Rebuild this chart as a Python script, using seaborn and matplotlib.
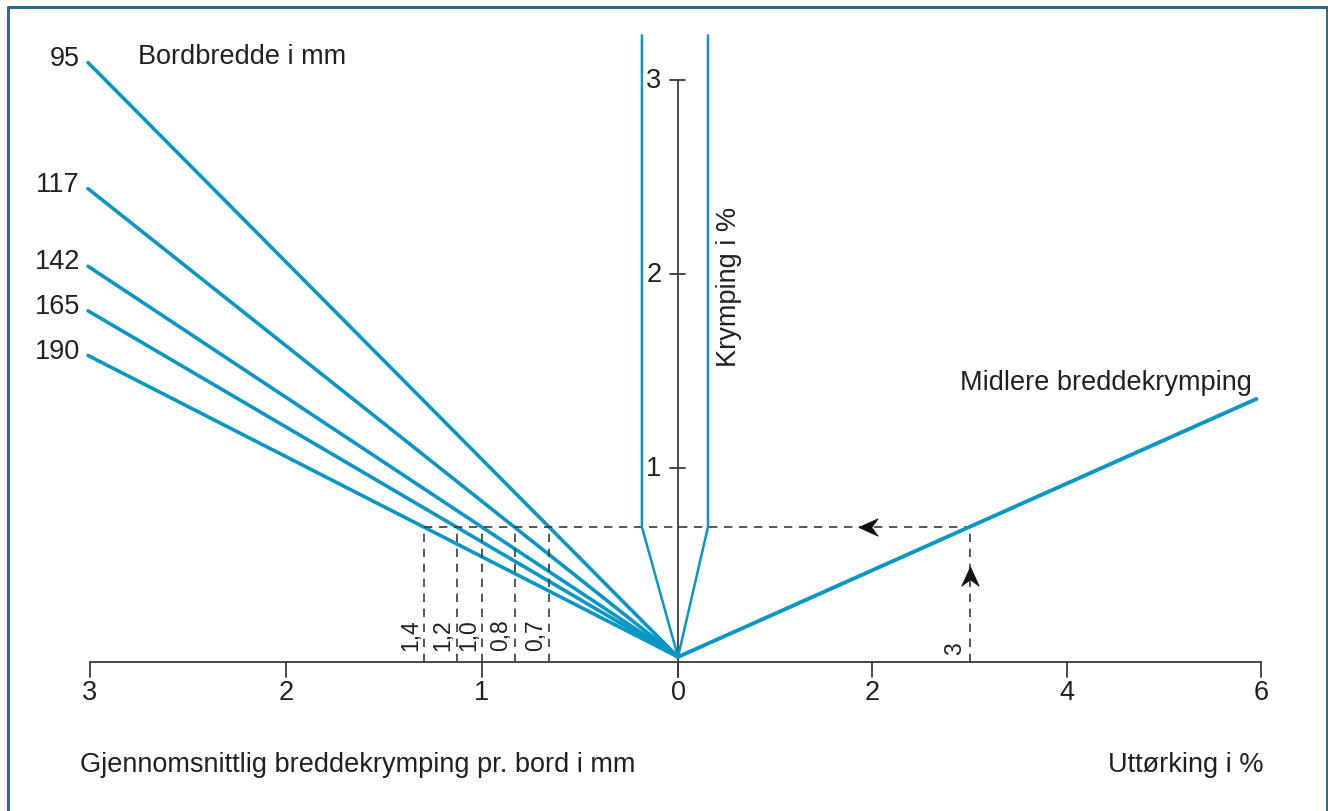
import numpy as np
import pandas as pd
import seaborn as sns
import matplotlib.pyplot as plt
from matplotlib.path import Path

sns.set_theme(style="white")
plt.rcParams["font.family"] = ["Liberation Sans", "DejaVu Sans"]

# Data
bredde = [95, 117, 142, 165, 190]                 # bordbredde i mm
krymp_ved_3mm = [3.09, 2.44, 2.04, 1.81, 1.58]    # krymping i % der linja treffer 3 mm
snitt_labels = ["0,7", "0,8", "1,0", "1,2", "1,4"]
venstre_ticks = [3, 2, 1, 0]
hoyre_ticks = [2, 4, 6]
krymp_ticks = [1, 2, 3]
uttorking_eks = 3.0          # eksempel: uttørking i %
uttorking_slutt = 5.95
midlere_slutt = 1.356        # krymping i % ved slutten av linja
krymp_niva = 0.696           # avlest krymping i eksempelet
apex = 0.026
trakt_x = [-0.184, 0.153]    # knekkpunkt for trakten (mm-skala)
trakt_topp = 3.23

# layout: pixel mapping
X0, SX, Y0, SY = 678, 196, 663, 194
RF = 0.496  # right side: % -> mm units
FS = 19.5


def px(p):
    return (p - X0) / SX


def py(p):
    return (Y0 - p) / SY


blue = "#0a96c4"
ink = "#231f20"
axc = "#3a3a3a"

fig = plt.figure(figsize=(13.28, 8.12), dpi=100)
ax = fig.add_axes([0, 0, 1, 1])
ax.set_xlim(px(0), px(1328))
ax.set_ylim(py(812), py(0))
ax.axis("off")

# axes
tick = 15 / SY
ax.plot([-3, 6 * RF], [0, 0], color=axc, lw=1.3)
for t in venstre_ticks:
    ax.plot([-t, -t], [0, -tick], color=axc, lw=1.3)
    ax.text(-t, py(693), str(t), ha="center", va="center", fontsize=FS, color=ink)
for t in hoyre_ticks:
    ax.plot([t * RF, t * RF], [0, -tick], color=axc, lw=1.3)
    ax.text(t * RF, py(693), str(t), ha="center", va="center", fontsize=FS, color=ink)
ax.plot([0, 0], [-tick, 3], color=axc, lw=1.3)
for t in krymp_ticks:
    ax.plot([px(670), px(685)], [t, t], color=axc, lw=1.3)
    ax.text(px(654), t, str(t), ha="center", va="center", fontsize=FS, color=ink)

# width lines
for b, k in zip(bredde, krymp_ved_3mm):
    sns.lineplot(x=[0, -3.01], y=[apex, k], sort=False, estimator=None,
                 color=blue, linewidth=2.6, ax=ax)
    ax.text(px(80), k + 0.025, str(b), ha="right", va="center", fontsize=FS, color=ink)

# dashed reading lines
kryss = [-3 * (krymp_niva - apex) / (k - apex) for k in krymp_ved_3mm]
dash = dict(color=axc, lw=1.2, ls=(0, (5, 4)))
ax.plot([min(kryss), uttorking_eks * RF], [krymp_niva, krymp_niva], **dash)
for x, lab in zip(kryss, snitt_labels):
    ax.plot([x, x], [0, krymp_niva], **dash)
    ax.text(x - 14 / SX, py(651), lab, rotation=90, ha="center", va="bottom",
            fontsize=16.5, color=ink)
ax.plot([uttorking_eks * RF] * 2, [0, krymp_niva], **dash)
ax.text(uttorking_eks * RF - 15 / SX, py(655), "3", rotation=90, ha="center",
        va="bottom", fontsize=16.5, color=ink)

# arrowheads
left_arrow = Path([(-1, 0), (1, 0.9), (0.35, 0), (1, -0.9), (-1, 0)],
                  [Path.MOVETO, Path.LINETO, Path.LINETO, Path.LINETO, Path.CLOSEPOLY])
up_arrow = Path([(0, 1), (0.9, -1), (0, -0.35), (-0.9, -1), (0, 1)],
                [Path.MOVETO, Path.LINETO, Path.LINETO, Path.LINETO, Path.CLOSEPOLY])
ax.plot(px(868), krymp_niva, marker=left_arrow, ms=14, color="#111111", mec="#111111", mew=0.5)
ax.plot(uttorking_eks * RF, py(577), marker=up_arrow, ms=14, color="#111111", mec="#111111", mew=0.5)

# mean shrinkage line
sns.lineplot(x=[0, uttorking_slutt * RF], y=[apex, midlere_slutt], sort=False,
             estimator=None, color=blue, linewidth=2.8, ax=ax)

# funnel
for xk in trakt_x:
    sns.lineplot(x=[0, xk, xk], y=[apex, krymp_niva, trakt_topp], sort=False,
                 estimator=None, color=blue, linewidth=1.8, ax=ax)

# texts
ax.text(px(138), py(57), "Bordbredde i mm", ha="left", va="center", fontsize=FS, color=ink)
ax.text(px(729), py(287), "Krymping i %", rotation=90, ha="center", va="center",
        fontsize=FS, color=ink)
ax.text(px(960), py(383), "Midlere breddekrymping", ha="left", va="center",
        fontsize=FS, color=ink)
ax.text(px(80), py(765), "Gjennomsnittlig breddekrymping pr. bord i mm", ha="left",
        va="center", fontsize=FS, color=ink)
ax.text(px(1264), py(765), "Uttørking i %", ha="right", va="center", fontsize=FS, color=ink)

# frame (left, top, right)
fr = dict(color="#2f6a8c", lw=2.2, transform=fig.transFigure, clip_on=False)
ax.plot([7.5 / 1328, 7.5 / 1328], [0, 1 - 7.5 / 812], **fr)
ax.plot([7.5 / 1328, 1326.5 / 1328], [1 - 7.5 / 812] * 2, **fr)
ax.plot([1326.5 / 1328] * 2, [0, 1 - 7.5 / 812], **fr)

fig.savefig("out.png", dpi=100, facecolor="white")
